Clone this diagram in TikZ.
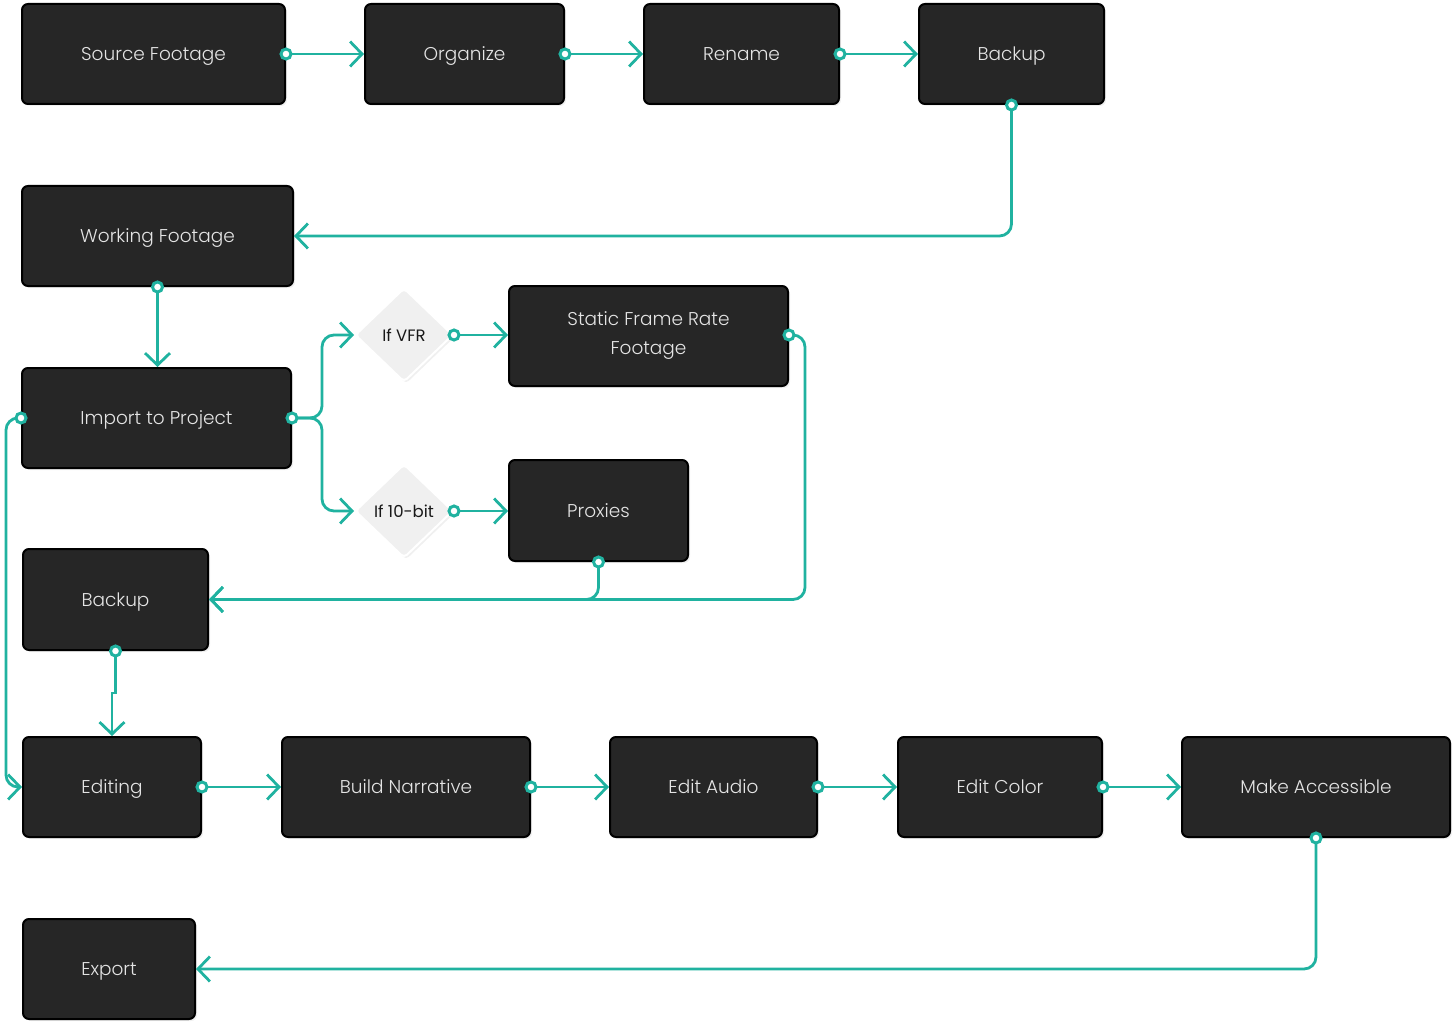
\documentclass[tikz,border=0pt]{standalone}
\usepackage{fontspec}
\setmainfont{Poppins}
\newfontfamily\lightfont{Poppins}[UprightFont=* Light]
\usetikzlibrary{arrows.meta,shapes.geometric,shadows,calc}
\definecolor{teal1}{RGB}{32,178,160}
\definecolor{boxfill}{RGB}{38,38,38}
\definecolor{boxtext}{RGB}{228,228,228}
\definecolor{dfill}{RGB}{240,240,240}
\begin{document}
\begin{tikzpicture}[x=1pt,y=-1pt,
 box/.style={draw=black, line width=2, fill=boxfill, rounded corners=6, text=boxtext,
   font=\lightfont\fontsize{18.5}{29}\selectfont, align=center, inner sep=0,
   drop shadow={opacity=0.12, shadow xshift=2pt, shadow yshift=-2pt}},
 one/.style={text height=13.5, text depth=0},
 dia/.style={diamond, draw=white, line width=2, fill=dfill, minimum width=98, minimum height=94,
   inner sep=0, font=\fontsize{16.5}{18}\selectfont, text=black!90, rounded corners=4,
   text height=12, text depth=0,
   drop shadow={opacity=0.12, shadow xshift=2pt, shadow yshift=-2pt}},
 conn/.style={draw=teal1, line width=2.8, rounded corners=12, -{Straight Barb[length=12,width=25]}},
 dotc/.style={draw=teal1, fill=white, line width=3}
]
\useasboundingbox (0,0) rectangle (1456,1027);
\node[box, one, minimum width=263, minimum height=100] (src) at (153.5,54) {Source Footage};
\node[box, one, minimum width=199, minimum height=100] (org) at (464.5,54) {Organize};
\node[box, one, minimum width=195, minimum height=100] (ren) at (741.5,54) {Rename};
\node[box, one, minimum width=185, minimum height=100] (bk1) at (1011.5,54) {Backup};
\node[box, one, minimum width=271, minimum height=100] (wf) at (157.5,236) {Working Footage};
\node[box, one, minimum width=269, minimum height=100] (imp) at (156.5,418) {Import to Project};
\node[dia] (vfr) at (404,335) {If VFR};
\node[box, minimum width=279, minimum height=100] (sfr) at (648.5,336) {Static Frame Rate\\Footage};
\node[dia] (b10) at (404,511) {If 10-bit};
\node[box, one, minimum width=179, minimum height=101] (prx) at (598.5,510.5) {Proxies};
\node[box, one, minimum width=185, minimum height=101] (bk2) at (115.5,599.5) {Backup};
\node[box, one, minimum width=178, minimum height=100] (edi) at (112,787) {Editing};
\node[box, one, minimum width=248, minimum height=100] (bn) at (406,787) {Build Narrative};
\node[box, one, minimum width=207, minimum height=100] (ea) at (713.5,787) {Edit Audio};
\node[box, one, minimum width=204, minimum height=100] (ec) at (1000,787) {Edit Color};
\node[box, one, minimum width=268, minimum height=100] (ma) at (1316,787) {Make Accessible};
\node[box, one, minimum width=172, minimum height=100] (exp) at (109,969) {Export};

\coordinate (sfrout) at (sfr.east |- vfr.east);
\draw[conn] (src.east) -- (org.west);
\draw[conn] (org.east) -- (ren.west);
\draw[conn] (ren.east) -- (bk1.west);
\draw[conn] (bk1.south) |- (wf.east);
\draw[conn] (wf.south) -- (wf.south |- imp.north);
\draw[conn] (imp.east) -- ++(30,0) |- (vfr.west);
\draw[conn] (imp.east) -- ++(30,0) |- (b10.west);
\draw[conn] (vfr.east) -- (sfr.west |- vfr.east);
\draw[conn] (b10.east) -- (prx.west |- b10.east);
\draw[conn] (sfrout) -- ++(16,0) |- (bk2.east);
\draw[conn] (prx.south) |- (bk2.east);
\draw[conn, rounded corners=0] (bk2.south) -- ++(0,42) -| (edi.north);
\draw[conn] (imp.west) -- ++(-15,0) |- (edi.west);
\draw[conn] (edi.east) -- (bn.west);
\draw[conn] (bn.east) -- (ea.west);
\draw[conn] (ea.east) -- (ec.west);
\draw[conn] (ec.east) -- (ma.west);
\draw[conn] (ma.south) |- (exp.east);
\foreach \p in {src.east, org.east, ren.east, bk1.south, wf.south, imp.east, vfr.east,
  b10.east, sfrout, prx.south, bk2.south, imp.west, edi.east, bn.east, ea.east, ec.east, ma.south}
  \draw[dotc] (\p) circle (5);
\end{tikzpicture}
\end{document}
